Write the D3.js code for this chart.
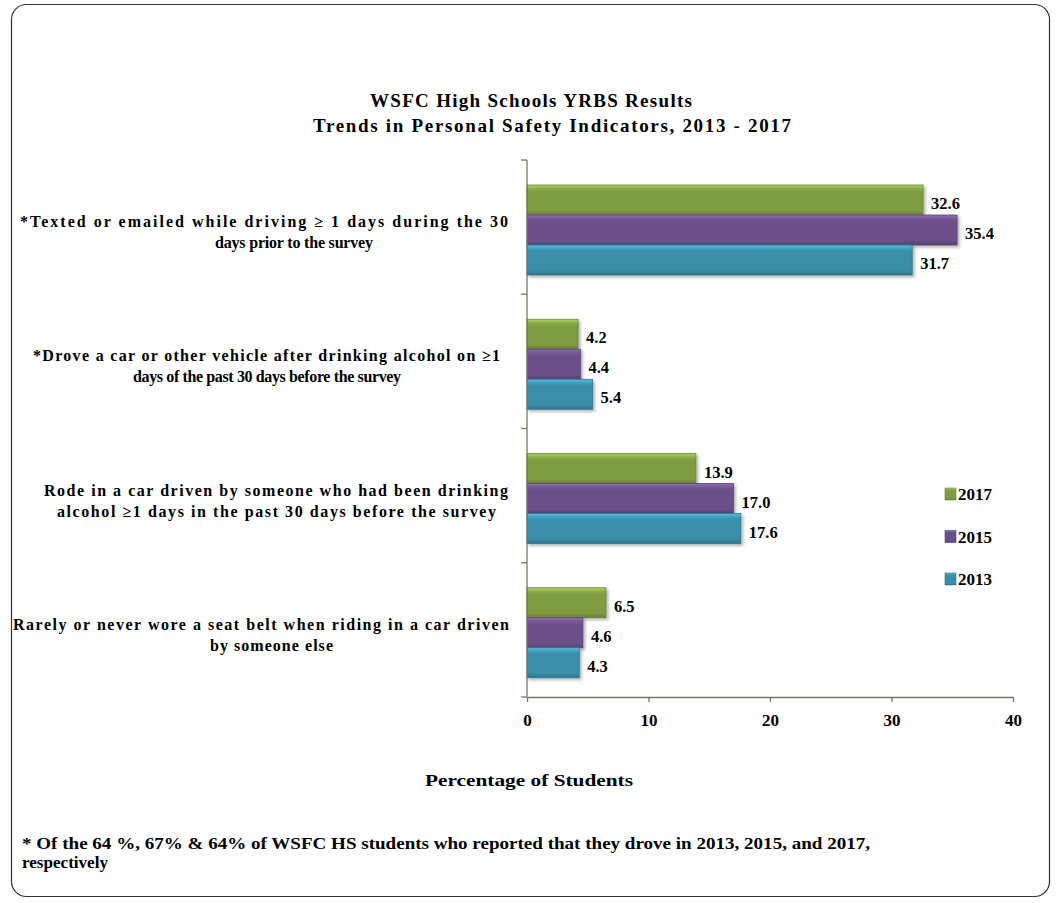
<!DOCTYPE html>
<html>
<head>
<meta charset="utf-8">
<script src="https://cdn.jsdelivr.net/npm/d3@7"></script>
<style>
  body { margin: 0; background: #fff; }
  text { font-family: "Liberation Serif", "Times New Roman", serif; font-weight: bold; fill: #000; }
</style>
</head>
<body>
<svg id="chart" width="1062" height="903"></svg>
<script>
// categories, top to bottom (each split in two lines)
let categories = [
  ['*Texted or emailed while driving \u2265 1 days during  the 30', 'days prior to the survey'],
  ['*Drove a car or other vehicle after drinking  alcohol on \u22651', 'days of the past 30 days before the survey'],
  ['Rode in a car driven by someone who had been drinking', 'alcohol \u22651 days in the past 30 days before the survey'],
  ['Rarely or never wore a seat belt when riding in a car driven', 'by someone else']
];
let years = ['2017', '2015', '2013'];
let values2017 = [32.6, 4.2, 13.9, 6.5];
let values2015 = [35.4, 4.4, 17.0, 4.6];
let values2013 = [31.7, 5.4, 17.6, 4.3];
let xTicks = [0, 10, 20, 30, 40];
let colors = { '2017': '#7f9c43', '2015': '#6a5088', '2013': '#3a8ea8' };

// label layout (start x and width of each line, as in the original)
let labelStart = [[20, 215], [33, 133], [44, 57], [13, 210]];
let labelWidth = [[488, 158], [467, 268], [464, 439], [496, 123]];

let series = { '2017': values2017, '2015': values2015, '2013': values2013 };

let svg = d3.select('#chart');

// 外框
svg.append('rect')
  .attr('x', 11.5).attr('y', 4.5)
  .attr('width', 1038).attr('height', 892)
  .attr('rx', 15).attr('ry', 15)
  .attr('fill', '#fff').attr('stroke', '#333').attr('stroke-width', 1.2);

// gradients for bevelled bars
let defs = svg.append('defs');
years.forEach(yr => {
  let c = d3.color(colors[yr]);
  let g = defs.append('linearGradient').attr('id', 'g' + yr)
    .attr('x1', 0).attr('y1', 0).attr('x2', 0).attr('y2', 1);
  g.append('stop').attr('offset', '0%').attr('stop-color', c.brighter(0.9));
  g.append('stop').attr('offset', '12%').attr('stop-color', c.brighter(0.3));
  g.append('stop').attr('offset', '22%').attr('stop-color', c);
  g.append('stop').attr('offset', '85%').attr('stop-color', c);
  g.append('stop').attr('offset', '100%').attr('stop-color', c.darker(0.6));
});
let shadow = defs.append('filter').attr('id', 'shadow')
  .attr('x', '-5%').attr('y', '-20%').attr('width', '115%').attr('height', '160%');
shadow.append('feDropShadow').attr('dx', 2).attr('dy', 2).attr('stdDeviation', 1.5)
  .attr('flood-color', '#000').attr('flood-opacity', 0.3);

// title
let title = svg.append('text').style('font-size', '19px').attr('lengthAdjust', 'spacingAndGlyphs');
title.append('tspan').attr('x', 370).attr('y', 107).attr('textLength', 322)
  .text('WSFC High Schools YRBS Results');
title.append('tspan').attr('x', 313).attr('y', 132).attr('textLength', 478)
  .text('Trends in Personal Safety Indicators, 2013 - 2017');

let x = d3.scaleLinear().domain([0, 40]).range([527, 1013]);
let y = d3.scaleBand().domain(d3.range(categories.length)).range([160, 697]);
let yInner = d3.scaleBand().domain(years).range([25, 115]);

// bars
let groups = svg.selectAll('g.cat').data(categories).enter().append('g')
  .attr('class', 'cat')
  .attr('transform', (d, i) => `translate(0, ${y(i)})`);

groups.each(function(d, i) {
  let g = d3.select(this);
  years.forEach(yr => {
    let v = series[yr][i];
    g.append('rect')
      .attr('x', x(0)).attr('y', yInner(yr))
      .attr('width', x(v) - x(0)).attr('height', yInner.bandwidth())
      .attr('fill', `url(#g${yr})`)
      .attr('stroke', d3.color(colors[yr]).darker(0.5)).attr('stroke-width', 0.8)
      .attr('filter', 'url(#shadow)');
    g.append('text')
      .attr('x', x(v) + 8)
      .attr('y', yInner(yr) + yInner.bandwidth() / 2 + 9)
      .style('font-size', '16.5px')
      .text(v.toFixed(1));
  });
  // category label
  d.forEach((line, k) => {
    g.append('text')
      .attr('x', labelStart[i][k])
      .attr('y', y.bandwidth() / 2 + (k === 0 ? 0 : 21))
      .attr('textLength', labelWidth[i][k])
      .attr('lengthAdjust', 'spacing')
      .style('font-size', '16px')
      .text(line);
  });
});

// y axis
let yAxis = svg.append('g').attr('transform', `translate(${x(0)},0)`);
yAxis.append('line').attr('x1', 0).attr('x2', 0).attr('y1', 160).attr('y2', 697)
  .attr('stroke', '#7d7663').attr('stroke-width', 1.3);
yAxis.selectAll('line.tick').data(d3.range(categories.length + 1)).enter().append('line')
  .attr('class', 'tick')
  .attr('x1', -6).attr('x2', 0)
  .attr('y1', i => i < categories.length ? y(i) : 697)
  .attr('y2', i => i < categories.length ? y(i) : 697)
  .attr('stroke', '#7d7663').attr('stroke-width', 1.3);

// x axis
let xAxis = svg.append('g').attr('transform', 'translate(0,697)')
  .call(d3.axisBottom(x).tickValues(xTicks).tickSize(5).tickSizeOuter(0).tickPadding(12));
xAxis.select('.domain').attr('stroke', '#7d7663').attr('stroke-width', 1.3);
xAxis.selectAll('.tick line').attr('stroke', '#7d7663').attr('stroke-width', 1.3);
xAxis.selectAll('.tick text')
  .style('font-family', '"Liberation Serif", serif').style('font-weight', 'bold')
  .style('font-size', '17px').attr('fill', '#000');

svg.append('text').attr('x', 425).attr('y', 786)
  .attr('textLength', 208).attr('lengthAdjust', 'spacingAndGlyphs')
  .style('font-size', '16px').text('Percentage of Students');

// legend
let legend = svg.selectAll('g.legend').data(years).enter().append('g')
  .attr('class', 'legend')
  .attr('transform', (d, i) => `translate(945, ${488 + i * 42.5})`);
legend.append('rect').attr('width', 11).attr('height', 12)
  .attr('fill', d => `url(#g${d})`)
  .attr('stroke', d => d3.color(colors[d]).darker(0.5)).attr('stroke-width', 0.6);
legend.append('text').attr('x', 13).attr('y', 12).style('font-size', '17px').text(d => d);

// footnote
svg.append('text').attr('x', 22).attr('y', 849).style('font-size', '17px')
  .attr('textLength', 848).attr('lengthAdjust', 'spacingAndGlyphs')
  .text('* Of the 64 %,  67% & 64% of WSFC HS students who reported that they drove  in 2013, 2015, and 2017,');
svg.append('text').attr('x', 22).attr('y', 868).style('font-size', '17px')
  .attr('textLength', 86).attr('lengthAdjust', 'spacingAndGlyphs')
  .text('respectively');
</script>
</body>
</html>
